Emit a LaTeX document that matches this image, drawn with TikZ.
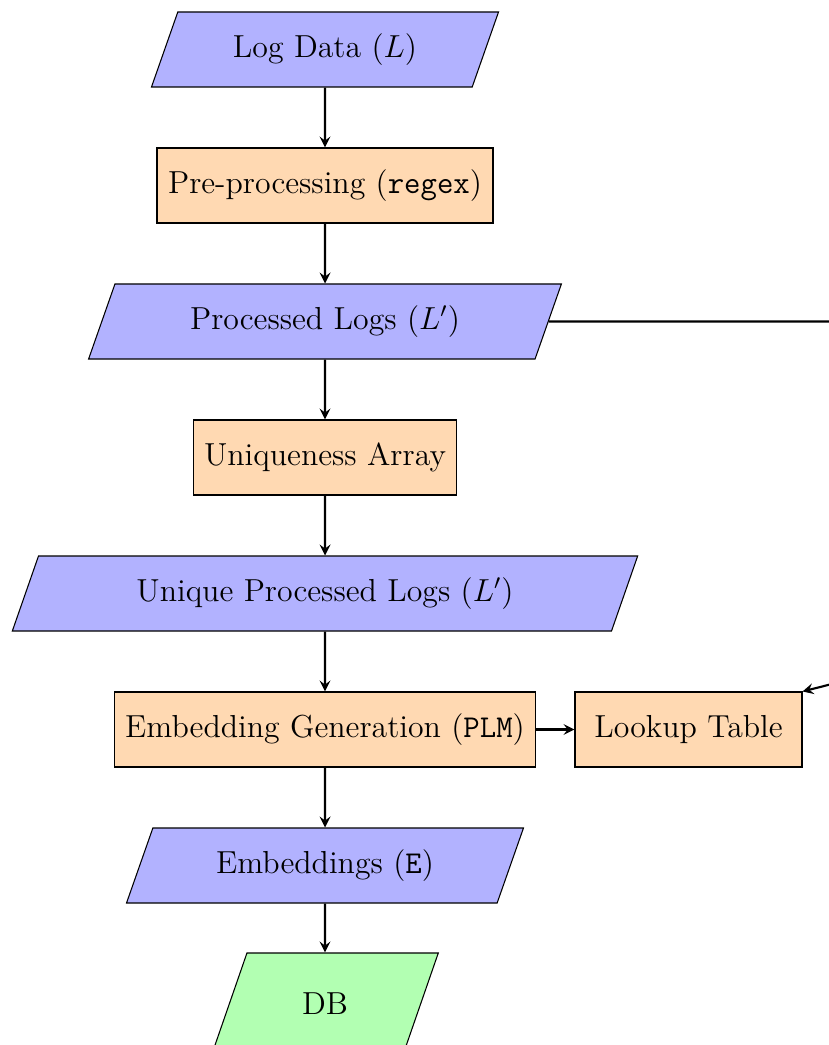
\documentclass[tikz,border=0pt]{standalone}
\usetikzlibrary{shapes.geometric,arrows}
\newcommand{\pxu}{0.377pt}
\begin{document}
\begin{tikzpicture}[x={(\pxu,0)}, y={(0,-\pxu)},
  dataio/.style={trapezium, trapezium left angle=70, trapezium right angle=110,
    trapezium stretches=true, draw, fill=blue!30, font=\large,
    minimum height=75*\pxu},
  procbox/.style={rectangle, draw, fill=orange!30, font=\large,
    minimum height=75*\pxu},
  store/.style={dataio, fill=green!30},
  flow/.style={->, >=stealth, thick}]
\useasboundingbox (0,0) rectangle (829,1045);
\clip (0,0) rectangle (829,1045);

\node[dataio, minimum width=349*\pxu] (logs) at (325,49.5) {Log Data ($L$)};
\node[procbox, minimum width=336*\pxu] (pre) at (325,185.5) {Pre-processing (\texttt{regex})};
\node[dataio, minimum width=473*\pxu] (proc) at (325,321.5) {Processed Logs ($L'$)};
\node[procbox, minimum width=263*\pxu] (uniq) at (325,457.5) {Uniqueness Array};
\node[dataio, minimum width=626*\pxu] (uproc) at (325,593.5) {Unique Processed Logs ($L'$)};
\node[procbox, minimum width=421*\pxu] (emb) at (325,729.5) {Embedding Generation (\texttt{PLM})};
\node[procbox, minimum width=227*\pxu] (lut) at (688.5,729.5) {Lookup Table};
\node[dataio, minimum width=397*\pxu] (vecs) at (325,865.5) {Embeddings (\texttt{E})};
\node[store, minimum width=227*\pxu, minimum height=101.6*\pxu] (db) at (325,1003.8) {DB};

\coordinate (turn) at (2260,321.5);

\draw[flow] (logs) -- (pre);
\draw[flow] (pre) -- (proc);
\draw[flow] (proc) -- (uniq);
\draw[flow] (uniq) -- (uproc);
\draw[flow] (uproc) -- (emb);
\draw[flow] (emb) -- (vecs);
\draw[flow] (vecs) -- (db);
\draw[flow] (emb) -- (lut);
\draw[flow] (proc.east) -- (turn) -- (lut.north east);
\end{tikzpicture}
\end{document}
